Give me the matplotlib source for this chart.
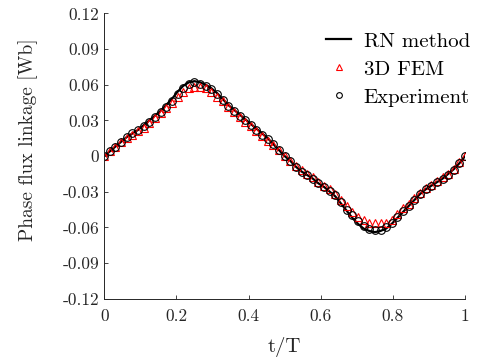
import numpy as np
import matplotlib
matplotlib.use("Agg")
import matplotlib.pyplot as plt

# sample instants (one period, 64 steps)
t = np.arange(65) / 64.0

rn_method = [0.000, 0.004, 0.008, 0.012, 0.016, 0.019, 0.022, 0.026, 0.030, 0.034,
             0.038, 0.043, 0.048, 0.054, 0.059, 0.062, 0.063, 0.062, 0.060, 0.057,
             0.053, 0.048, 0.043, 0.039, 0.035, 0.031, 0.027, 0.023, 0.019, 0.015,
             0.010, 0.005, 0.000,
             -0.004, -0.009, -0.013, -0.016, -0.019, -0.023, -0.026, -0.030, -0.034, -0.040,
             -0.046, -0.052, -0.057, -0.061, -0.063, -0.064, -0.063, -0.061, -0.057, -0.052,
             -0.047, -0.042, -0.037, -0.032, -0.028, -0.025, -0.022, -0.019, -0.015, -0.011,
             -0.006, 0.000]

fem_3d = [0.000, 0.004, 0.008, 0.012, 0.015, 0.018, 0.021, 0.024, 0.028, 0.032,
          0.036, 0.040, 0.045, 0.050, 0.054, 0.057, 0.058, 0.058, 0.057, 0.054,
          0.050, 0.046, 0.041, 0.037, 0.033, 0.029, 0.025, 0.021, 0.017, 0.013,
          0.009, 0.005, 0.000,
          -0.004, -0.008, -0.012, -0.015, -0.018, -0.022, -0.025, -0.028, -0.032, -0.037,
          -0.042, -0.047, -0.051, -0.054, -0.056, -0.056, -0.056, -0.056, -0.054, -0.049,
          -0.044, -0.040, -0.035, -0.031, -0.027, -0.024, -0.021, -0.018, -0.015, -0.011,
          -0.005, 0.000]

experiment = [0.000, 0.004, 0.008, 0.012, 0.016, 0.019, 0.022, 0.025, 0.029, 0.033,
              0.037, 0.041, 0.046, 0.052, 0.057, 0.061, 0.062, 0.061, 0.059, 0.056,
              0.052, 0.047, 0.042, 0.038, 0.034, 0.030, 0.026, 0.022, 0.018, 0.014,
              0.010, 0.005, 0.000,
              -0.004, -0.009, -0.013, -0.016, -0.019, -0.023, -0.026, -0.029, -0.033, -0.039,
              -0.045, -0.050, -0.055, -0.059, -0.061, -0.062, -0.062, -0.060, -0.056, -0.051,
              -0.046, -0.042, -0.037, -0.032, -0.028, -0.025, -0.022, -0.019, -0.016, -0.012,
              -0.006, 0.000]

xticks = [0, 0.2, 0.4, 0.6, 0.8, 1]
xtick_labels = ["0", "0.2", "0.4", "0.6", "0.8", "1"]
yticks = [-0.12, -0.09, -0.06, -0.03, 0, 0.03, 0.06, 0.09, 0.12]
ytick_labels = ["-0.12", "-0.09", "-0.06", "-0.03", "0", "0.03", "0.06", "0.09", "0.12"]

plt.rcParams['font.family'] = ['cmr10', 'DejaVu Serif']
plt.rcParams['axes.unicode_minus'] = False

fig = plt.figure(figsize=(4.78, 3.58), dpi=100)
ax = fig.add_axes([0.218, 0.1656, 0.755, 0.797])

ax.plot(t, rn_method, color='black', lw=1.6, label='RN method')
ax.plot(t, fem_3d, ls='none', marker='^', ms=5.5, mfc='none', mec='red',
        mew=0.8, label='3D FEM')
ax.plot(t, experiment, ls='none', marker='o', ms=5.5, mfc='none', mec='black',
        mew=0.8, label='Experiment')

ax.set_xlim(0, 1)
ax.set_ylim(-0.12, 0.12)
ax.set_xticks(xticks)
ax.set_xticklabels(xtick_labels)
ax.set_yticks(yticks)
ax.set_yticklabels(ytick_labels)
ax.tick_params(direction='in', length=3, width=0.6, color='#262626',
               labelcolor='#262626', labelsize=12.5)
ax.tick_params(axis='x', pad=7)
for s in ['top', 'right']:
    ax.spines[s].set_visible(False)
for s in ['left', 'bottom']:
    ax.spines[s].set_color('#262626')
    ax.spines[s].set_linewidth(0.7)

ax.set_xlabel('t/T', color='#262626', fontsize=15)
ax.set_ylabel('Phase flux linkage [Wb]', color='#262626', fontsize=14)
ax.xaxis.set_label_coords(0.5, -0.134)
ax.yaxis.set_label_coords(-0.184, 0.556)

leg = ax.legend(loc='upper right', frameon=False, markerscale=0.75, fontsize=15,
                handlelength=1.2, handletextpad=0.6, labelspacing=0.45,
                bbox_to_anchor=(1.065, 1.0))

fig.savefig('out.png', dpi=100)
